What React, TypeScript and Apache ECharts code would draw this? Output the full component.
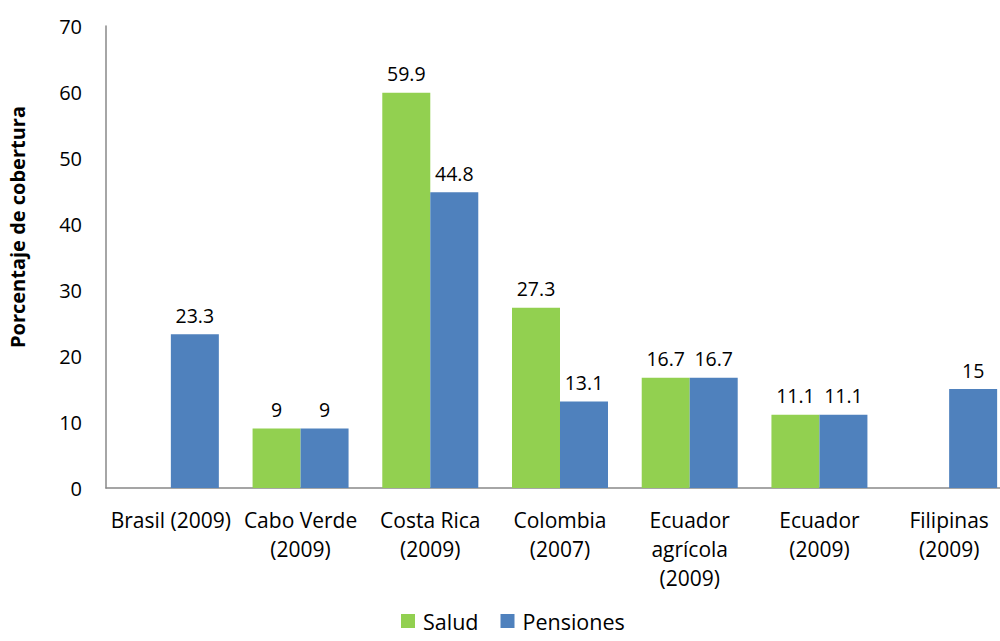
import React, { useEffect, useRef } from "react";
import * as echarts from "echarts";

const categories = [
  "Brasil (2009)",
  "Cabo Verde\n(2009)",
  "Costa Rica\n(2009)",
  "Colombia\n(2007)",
  "Ecuador\nagrícola\n(2009)",
  "Ecuador\n(2009)",
  "Filipinas\n(2009)",
];
const salud: (number | null)[] = [null, 9, 59.9, 27.3, 16.7, 11.1, null];
const pensiones: (number | null)[] = [23.3, 9, 44.8, 13.1, 16.7, 11.1, 15];
const yTicks = { min: 0, max: 70, interval: 10 };
const yAxisTitle = "Porcentaje de cobertura";

const FONT = "'Open Sans', sans-serif";

export default function App() {
  const ref = useRef<HTMLDivElement>(null);
  useEffect(() => {
    if (!ref.current) return;
    const chart = echarts.init(ref.current, undefined, { renderer: "svg" });
    const label = {
      show: true,
      position: "top" as const,
      distance: 9,
      color: "#000",
      fontFamily: FONT,
      fontSize: 19.5,
    };
    chart.setOption({
      animation: false,
      textStyle: { fontFamily: FONT },
      grid: { left: 106, top: 26, width: 908, height: 462, containLabel: false },
      graphic: [
        {
          type: "text",
          x: 17,
          y: 227,
          rotation: Math.PI / 2,
          style: {
            text: yAxisTitle,
            fontFamily: FONT,
            fontSize: 20,
            fontWeight: "bold",
            fill: "#000",
            align: "center",
            verticalAlign: "middle",
          },
        },
      ],
      legend: {
        data: ["Salud", "Pensiones"],
        top: 610,
        left: 401,
        padding: 0,
        itemWidth: 14,
        itemHeight: 14,
        itemGap: 22,
        icon: "rect",
        textStyle: { fontFamily: FONT, fontSize: 21.5, lineHeight: 22, color: "#000", padding: [0, 0, 0, 3] },
      },
      xAxis: {
        type: "category",
        data: categories,
        axisLine: { lineStyle: { color: "#888", width: 1.5 } },
        axisTick: { show: false },
        axisLabel: {
          interval: 0,
          color: "#000",
          fontFamily: FONT,
          fontSize: 21,
          lineHeight: 29,
          margin: 17,
        },
      },
      yAxis: {
        type: "value",
        min: yTicks.min,
        max: yTicks.max,
        interval: yTicks.interval,
        axisLine: { show: true, lineStyle: { color: "#888", width: 1.5 } },
        axisTick: { show: false },
        splitLine: { show: false },
        axisLabel: { color: "#000", fontFamily: FONT, fontSize: 20, margin: 24 },
      },
      series: [
        {
          name: "Salud",
          type: "bar",
          data: salud,
          itemStyle: { color: "#92D050" },
          barGap: "0%",
          barCategoryGap: "26%",
          label,
        },
        {
          name: "Pensiones",
          type: "bar",
          data: pensiones,
          itemStyle: { color: "#4F81BD" },
          barGap: "0%",
          barCategoryGap: "26%",
          label,
        },
      ],
    });
    return () => chart.dispose();
  }, []);
  return (
    <div
      style={{ position: "fixed", left: 0, top: 0, width: 1000, height: 641, overflow: "hidden", background: "#fff" }}
    >
      <div ref={ref} style={{ width: 1014, height: 641 }} />
    </div>
  );
}
